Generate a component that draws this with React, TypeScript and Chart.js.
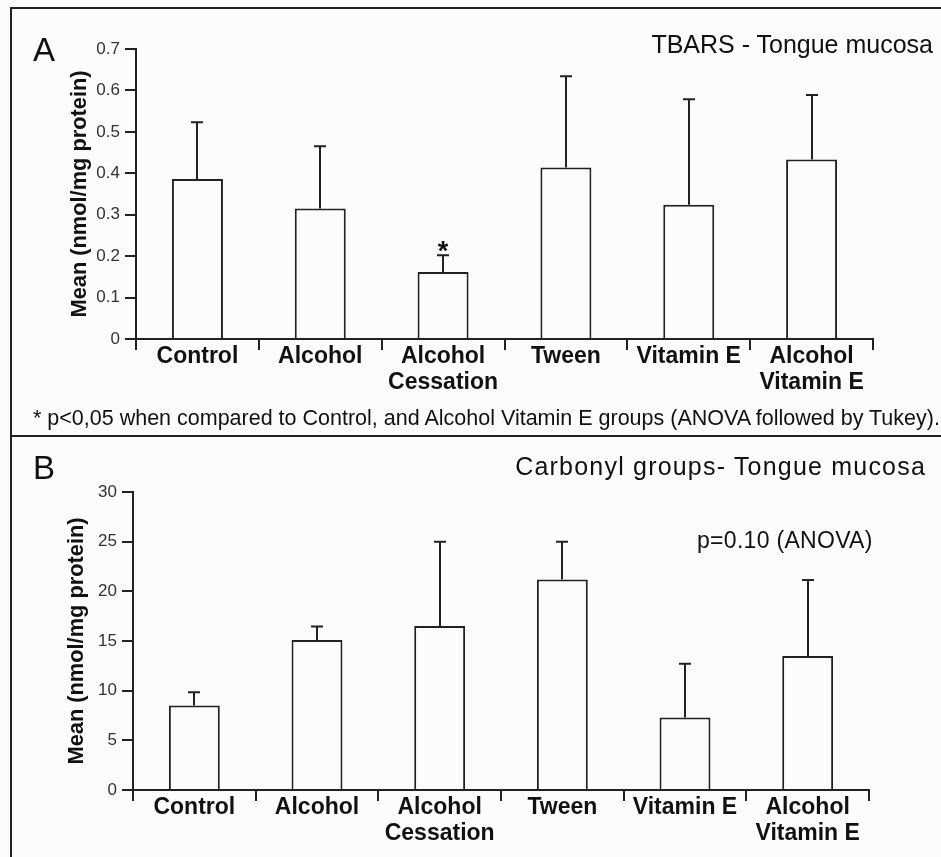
import React, { useEffect, useRef } from "react";
import { Chart, registerables } from "chart.js";

Chart.register(...registerables);

// ---------- data ----------
const categories: string[][] = [
  ["Control"],
  ["Alcohol"],
  ["Alcohol", "Cessation"],
  ["Tween"],
  ["Vitamin E"],
  ["Alcohol", "Vitamin E"],
];

const tbarsMeans = [0.386, 0.315, 0.162, 0.414, 0.324, 0.433];
const tbarsSD = [0.137, 0.15, 0.04, 0.22, 0.255, 0.156];
const tbarsMarks = ["", "", "*", "", "", ""];
const tbarsTicks = ["0", "0.1", "0.2", "0.3", "0.4", "0.5", "0.6", "0.7"];

const carbonylMeans = [8.5, 15.1, 16.5, 21.2, 7.3, 13.5];
const carbonylSD = [1.35, 1.35, 8.5, 3.8, 5.4, 7.65];
const carbonylMarks = ["", "", "", "", "", ""];
const carbonylTicks = ["0", "5", "10", "15", "20", "25", "30"];

const yTitle = "Mean (nmol/mg protein)";

// ---------- style ----------
const FONT = "'Liberation Sans', Arial, Helvetica, sans-serif";
const INK = "#222";
const BG = "#fcfcfc";

type PanelProps = {
  top: number;
  height: number;
  means: number[];
  sd: number[];
  marks: string[];
  yMax: number;
  step: number;
  ticks: string[];
  padLeft: number;
  padRight: number;
  padTop: number;
  yWidth: number;
  xHeight: number;
};

function Panel(p: PanelProps) {
  const ref = useRef<HTMLCanvasElement | null>(null);
  useEffect(() => {
    if (!ref.current) return;
    const errorPlugin = {
      id: "errorBarsCustom",
      afterDatasetsDraw(chart: any) {
        const ctx = chart.ctx;
        const meta = chart.getDatasetMeta(0);
        const ys = chart.scales.y;
        ctx.save();
        ctx.strokeStyle = INK;
        ctx.fillStyle = "#111";
        ctx.lineWidth = 2;
        meta.data.forEach((bar: any, i: number) => {
          const x = Math.round(bar.x);
          const y0 = ys.getPixelForValue(p.means[i]);
          const y1 = ys.getPixelForValue(p.means[i] + p.sd[i]);
          ctx.beginPath();
          ctx.moveTo(x, y0);
          ctx.lineTo(x, y1);
          ctx.moveTo(x - 6, y1);
          ctx.lineTo(x + 6, y1);
          ctx.stroke();
          if (p.marks[i]) {
            ctx.font = `bold 27px ${FONT}`;
            ctx.textAlign = "center";
            ctx.textBaseline = "alphabetic";
            ctx.fillText(p.marks[i], x, y1 + 5);
          }
        });
        ctx.restore();
      },
    };
    const chart = new Chart(ref.current, {
      type: "bar",
      data: {
        labels: categories,
        datasets: [
          {
            data: p.means,
            backgroundColor: BG,
            borderColor: INK,
            borderWidth: 2,
            barPercentage: 0.415,
            categoryPercentage: 1,
          },
        ],
      },
      options: {
        animation: false,
        responsive: false,
        maintainAspectRatio: false,
        layout: {
          padding: { left: p.padLeft, right: p.padRight, top: p.padTop, bottom: 0 },
        },
        plugins: {
          legend: { display: false },
          tooltip: { enabled: false },
          title: { display: false },
        },
        scales: {
          x: {
            grid: {
              offset: true,
              drawOnChartArea: false,
              drawTicks: true,
              tickLength: 11,
              color: INK,
              lineWidth: 2,
            },
            border: { color: INK, width: 2 },
            ticks: {
              font: { family: FONT, size: 23, weight: "bold", lineHeight: 1.15 },
              color: "#111",
              padding: -7,
              maxRotation: 0,
              autoSkip: false,
            },
            afterFit: (s: any) => {
              s.height = p.xHeight;
            },
          },
          y: {
            min: 0,
            max: p.yMax,
            grid: {
              drawOnChartArea: false,
              drawTicks: true,
              tickLength: 11,
              color: INK,
              lineWidth: 2,
            },
            border: { color: INK, width: 2 },
            ticks: {
              stepSize: p.step,
              font: { family: FONT, size: 17 },
              color: "#333",
              padding: 5,
              callback: (_v: any, i: number) => p.ticks[i],
            },
            title: {
              display: true,
              text: yTitle,
              font: { family: FONT, size: 21.8, weight: "bold", lineHeight: 1.2 },
              color: "#111",
              padding: { top: 4, bottom: 0 },
            },
            afterFit: (s: any) => {
              s.width = p.yWidth;
            },
          },
        },
      },
      plugins: [errorPlugin],
    } as any);
    return () => chart.destroy();
  }, []);
  return (
    <canvas
      ref={ref}
      width={941}
      height={p.height}
      style={{ position: "absolute", left: 0, top: p.top, width: 941, height: p.height }}
    />
  );
}

const textStyle = (
  left: number | null,
  right: number | null,
  top: number,
  size: number,
  spacing: number = 0
): React.CSSProperties => ({
  position: "absolute",
  left: left === null ? undefined : left,
  right: right === null ? undefined : right,
  top,
  fontFamily: FONT,
  fontSize: size,
  fontWeight: "normal",
  lineHeight: `${size}px`,
  letterSpacing: spacing ? `${spacing}px` : undefined,
  color: "#111",
  whiteSpace: "nowrap",
});

export default function App() {
  return (
    <div
      style={{
        position: "absolute",
        left: 0,
        top: 0,
        width: 941,
        height: 857,
        background: BG,
        overflow: "hidden",
      }}
    >
      <Panel
        top={0}
        height={436}
        means={tbarsMeans}
        sd={tbarsSD}
        marks={tbarsMarks}
        yMax={0.7}
        step={0.1}
        ticks={tbarsTicks}
        padLeft={63}
        padRight={68}
        padTop={49}
        yWidth={73}
        xHeight={97}
      />
      <Panel
        top={436}
        height={421}
        means={carbonylMeans}
        sd={carbonylSD}
        marks={carbonylMarks}
        yMax={30}
        step={5}
        ticks={carbonylTicks}
        padLeft={60}
        padRight={72}
        padTop={56}
        yWidth={73}
        xHeight={67}
      />
      {/* frame */}
      <div style={{ position: "absolute", left: 10, top: 7, width: 931, height: 2, background: INK }} />
      <div style={{ position: "absolute", left: 10, top: 7, width: 2, height: 850, background: INK }} />
      <div style={{ position: "absolute", left: 10, top: 435, width: 931, height: 2, background: INK }} />
      {/* annotations */}
      <div style={textStyle(33, null, 33, 33)}>A</div>
      <div style={textStyle(null, 8, 32, 25)}>TBARS - Tongue mucosa</div>
      <div style={textStyle(33, null, 408, 21.5)}>
        * p&lt;0,05 when compared to Control, and Alcohol Vitamin E groups (ANOVA followed by Tukey).
      </div>
      <div style={textStyle(33, null, 451, 33)}>B</div>
      <div style={textStyle(null, 15, 454, 25, 1.2)}>Carbonyl groups- Tongue mucosa</div>
      <div style={textStyle(697, null, 529, 23, 0.3)}>p=0.10 (ANOVA)</div>
    </div>
  );
}
